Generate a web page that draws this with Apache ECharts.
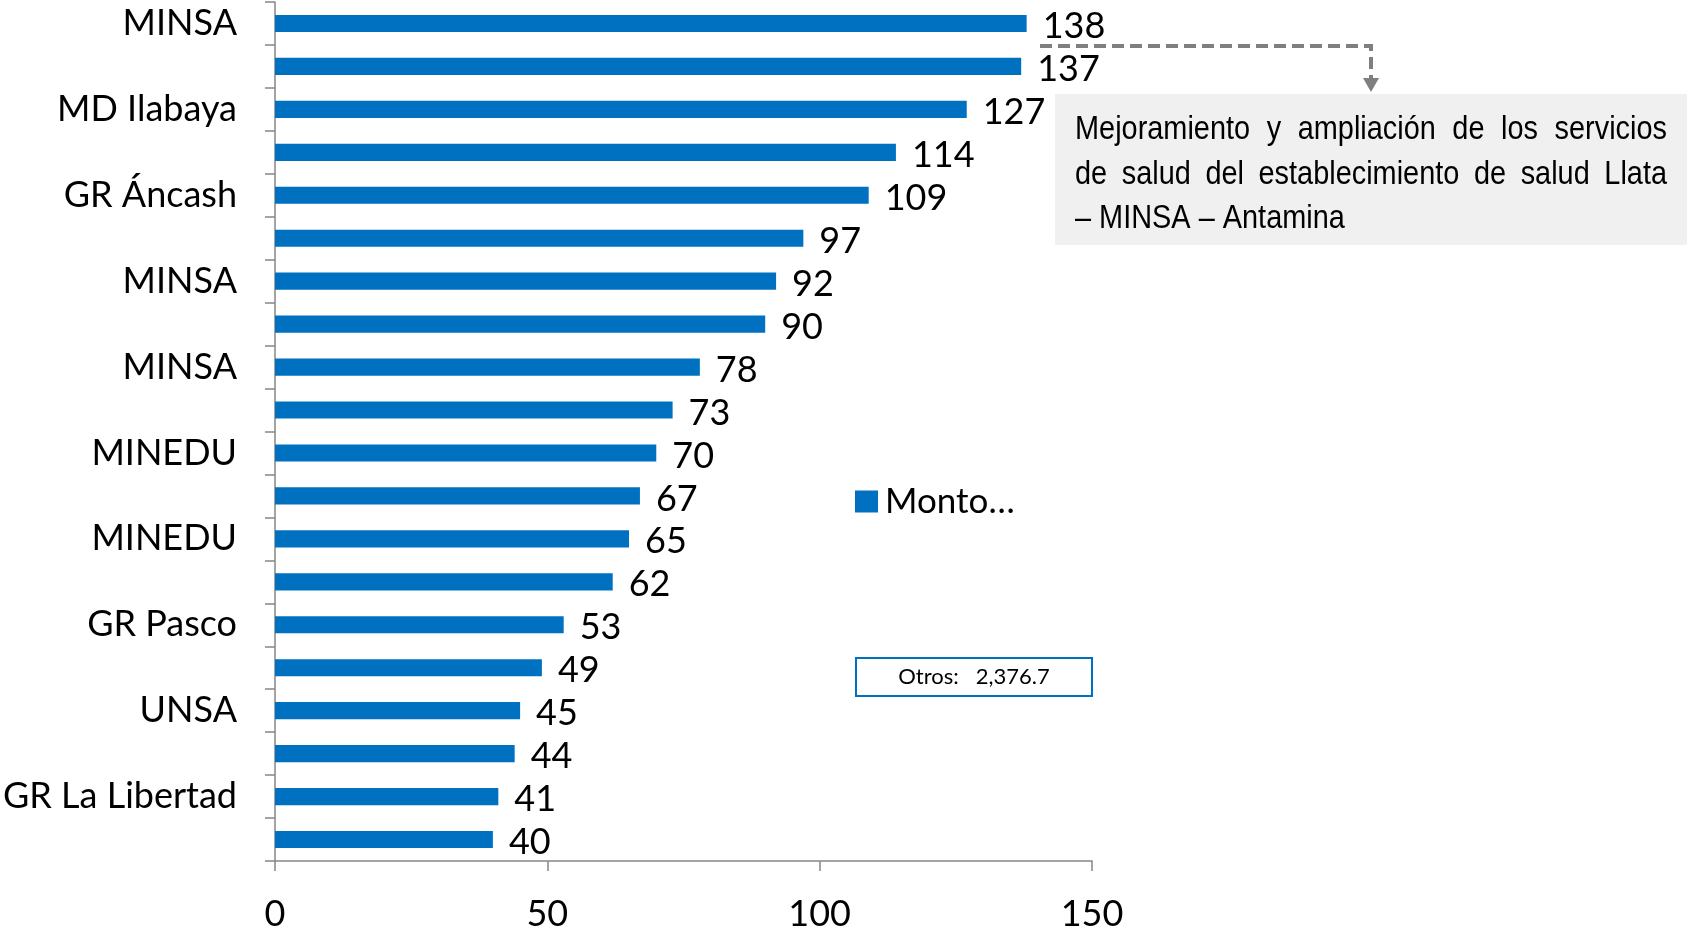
<!DOCTYPE html>
<html>
<head>
<meta charset="utf-8">
<script src="https://cdn.jsdelivr.net/npm/echarts@6/dist/echarts.min.js"></script>
<style>
  html, body { margin: 0; padding: 0; background: #fff; }
  #chart { width: 1690px; height: 932px; }
</style>
</head>
<body>
<div id="chart"></div>
<script>
// categorias (solo se ven las etiquetas alternas, como en el original)
var categories = ['MINSA', '', 'MD Ilabaya', '', 'GR Áncash', '', 'MINSA', '', 'MINSA', '',
  'MINEDU', '', 'MINEDU', '', 'GR Pasco', '', 'UNSA', '', 'GR La Libertad', ''];
var montos = [138, 137, 127, 114, 109, 97, 92, 90, 78, 73, 70, 67, 65, 62, 53, 49, 45, 44, 41, 40];
var xTicks = [0, 50, 100, 150];
var seriesName = 'Monto…';
var notaLineas = [
  'Mejoramiento y ampliación de los servicios',
  'de salud del establecimiento de salud Llata',
  '– MINSA – Antamina'
];
var otrosTexto = 'Otros:   2,376.7';

var mainFont = 'Lato, "Open Sans", sans-serif';
var narrowFont = '"Liberation Sans", Arial, sans-serif';
var blue = '#0070C0';

var myChart = echarts.init(document.getElementById('chart'));

// texto justificado del recuadro (Arial Narrow ~ Arial escalada en x)
function notaGraphics(x0, y0, width, lineH, fontSize, sx) {
  var ctx = document.createElement('canvas').getContext('2d');
  ctx.font = fontSize + 'px ' + narrowFont;
  var w = function (t) { return ctx.measureText(t).width * sx; };
  var els = [];
  notaLineas.forEach(function (line, li) {
    var words = line.split(' ');
    var y = y0 + li * lineH;
    var justify = li < notaLineas.length - 1;
    var total = 0;
    words.forEach(function (t) { total += w(t); });
    var gap = justify ? (width - total) / (words.length - 1) : w(' ');
    var x = x0;
    words.forEach(function (t) {
      els.push({
        type: 'text', x: x, y: y, scaleX: sx,
        style: { text: t, font: fontSize + 'px ' + narrowFont, fill: '#000', textVerticalAlign: 'middle' }
      });
      x += w(t) + gap;
    });
  });
  return els;
}

var graphics = [
  { type: 'rect', shape: { x: 1055, y: 94, width: 632, height: 151 }, style: { fill: '#f0f0f0' } },
  { type: 'polyline', shape: { points: [[1040, 46], [1371, 46], [1371, 80]] },
    style: { stroke: '#7f7f7f', lineWidth: 4, lineDash: [12, 6], fill: null } },
  { type: 'polygon', shape: { points: [[1363, 78], [1379, 78], [1371, 92]] }, style: { fill: '#7f7f7f' } },
  { type: 'rect', shape: { x: 856, y: 658, width: 236, height: 38 }, style: { fill: '#fff', stroke: blue, lineWidth: 2 } },
  { type: 'text', x: 974, y: 677,
    style: { text: otrosTexto, font: '22px ' + mainFont, fill: '#000', textAlign: 'center', textVerticalAlign: 'middle' } }
].concat(notaGraphics(1075, 130, 592, 44.5, 34, 0.85));

var option = {
  backgroundColor: '#fff',
  animation: false,
  grid: { left: 275, right: 598, top: 2, bottom: 70, containLabel: false },
  legend: {
    data: [seriesName],
    left: 850, top: 479,
    itemWidth: 23, itemHeight: 22, itemGap: 10,
    icon: 'rect',
    textStyle: { fontFamily: mainFont, fontSize: 35, color: '#000', padding: [0, 0, 0, 2] }
  },
  xAxis: {
    type: 'value',
    min: 0, max: 150, interval: 50,
    axisLine: { show: true, lineStyle: { color: '#868686', width: 1.5 } },
    axisTick: { show: true, length: 10, lineStyle: { color: '#868686', width: 1.5 } },
    axisLabel: {
      margin: 35, color: '#000', fontFamily: mainFont, fontSize: 36,
      formatter: function (v) { return xTicks.indexOf(v) >= 0 ? String(v) : ''; }
    },
    splitLine: { show: false }
  },
  yAxis: {
    type: 'category',
    inverse: true,
    data: categories,
    axisLine: { show: true, lineStyle: { color: '#868686', width: 1.5 } },
    axisTick: { show: true, interval: 0, length: 10, lineStyle: { color: '#868686', width: 1.5 } },
    axisLabel: { interval: 0, margin: 38, color: '#000', fontFamily: mainFont, fontSize: 36 }
  },
  series: [{
    name: seriesName,
    type: 'bar',
    data: montos,
    barWidth: '40%',
    itemStyle: { color: blue },
    label: {
      show: true, position: 'right', distance: 16,
      color: '#000', fontFamily: mainFont, fontSize: 36,
      offset: [0, 3]
    }
  }],
  graphic: graphics
};
myChart.setOption(option);
</script>
</body>
</html>
